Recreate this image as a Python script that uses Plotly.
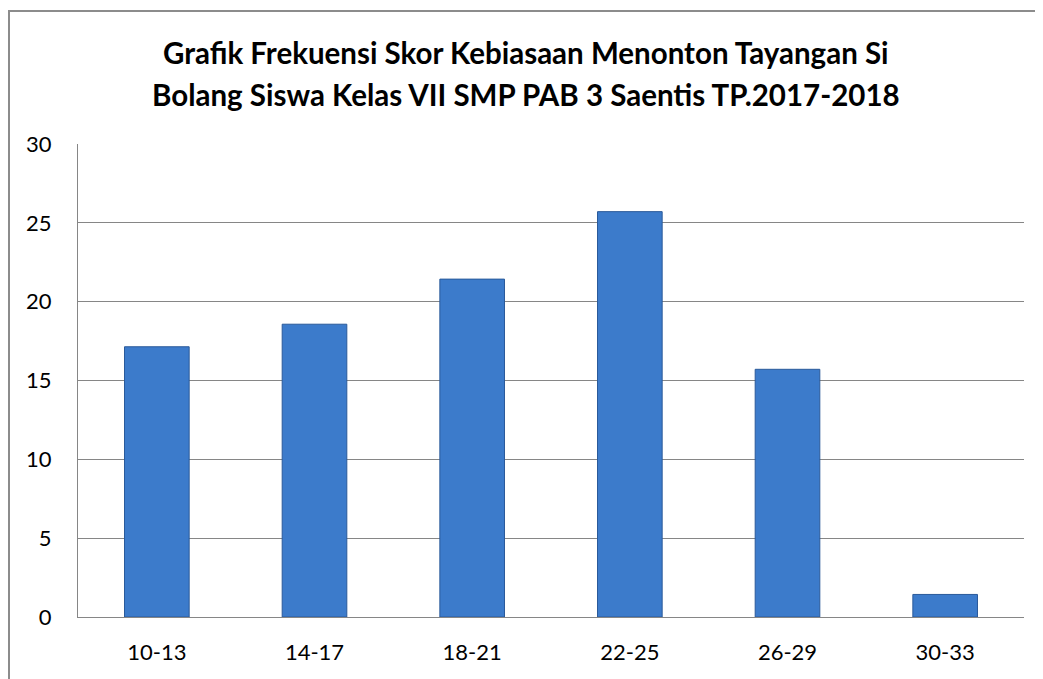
import plotly.graph_objects as go

categories = ["10-13", "14-17", "18-21", "22-25", "26-29", "30-33"]
values = [17.14, 18.57, 21.43, 25.71, 15.71, 1.43]
y_ticks = [0, 5, 10, 15, 20, 25, 30]
title_lines = ["Grafik Frekuensi Skor Kebiasaan Menonton Tayangan Si",
               "Bolang Siswa Kelas VII SMP PAB 3 Saentis TP.2017-2018"]

fig = go.Figure()
fig.add_trace(go.Bar(
    x=categories, y=values,
    marker=dict(color="#3C7BCB", line=dict(color="#2A5A9A", width=1)),
    width=0.41,
))

W, H = 1043, 679
OFF = 8  # page body margin
L, R, T, B = 78 - OFF, 27, 144 - OFF, 70
PW, PH = W - L - R, H - T - B
fig.update_layout(
    width=W, height=H,
    paper_bgcolor="white", plot_bgcolor="white",
    margin=dict(l=L, r=R, t=T, b=B, autoexpand=False),
    font=dict(family="Lato, Open Sans, sans-serif", size=22, color="black"),
    showlegend=False,
)
for line, ypix in zip(title_lines, [52, 95]):
    fig.add_annotation(
        text="<b>%s</b>" % line, xref="paper", yref="paper",
        x=(526 - OFF - L) / PW, y=(H - B - (ypix - OFF)) / PH,
        xanchor="center", yanchor="middle", showarrow=False,
        font=dict(family="Lato, Open Sans, sans-serif", size=29.5, color="black"),
    )
fig.update_xaxes(
    showline=True, linecolor="#868686", linewidth=1, automargin=False,
    ticks="", tickfont=dict(size=22), ticklabelstandoff=16,
)
fig.update_yaxes(
    range=[0, 30], tickvals=y_ticks, automargin=False,
    showgrid=True, gridcolor="#868686", gridwidth=1,
    showline=True, linecolor="#868686", linewidth=1, mirror=False,
    zeroline=False, ticks="", tickfont=dict(size=22),
    ticklabelstandoff=21,
)
fig.add_shape(type="rect", xref="paper", yref="paper",
              x0=(9 - OFF - L) / PW, x1=1.06,
              y0=-0.3, y1=(H - B - (11 - OFF)) / PH,
              line=dict(color="#8C8C8C", width=2), fillcolor="rgba(0,0,0,0)")

fig.write_html("out.html")
